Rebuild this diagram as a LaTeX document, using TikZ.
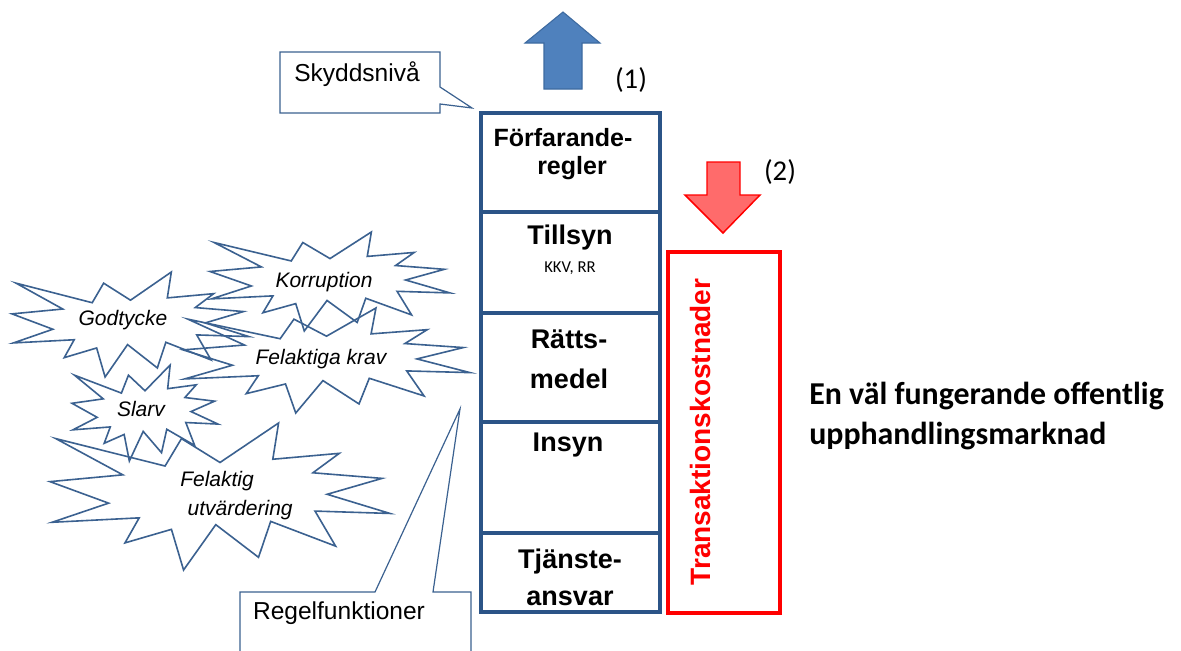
\documentclass[tikz,border=0pt]{standalone}
\usepackage{fontspec}
\setmainfont{Liberation Sans}
\newfontfamily\calibri{Carlito}
\definecolor{starblue}{HTML}{3B6190}
\definecolor{colblue}{HTML}{2B5487}
\definecolor{arrblue}{HTML}{4F81BD}
\definecolor{arrblueline}{HTML}{3D6AA0}
\definecolor{lightred}{HTML}{FF6B6B}
\newcommand\sealpath{(108,58) -- (145.22,0) -- (141.55,53.25) -- (183.80,44.57) -- (167.02,73.15) -- (210.97,81.37) -- (176.07,104.75) -- (216,132.90) -- (168.37,129.42) -- (181.45,180.95) -- (140.20,144.57) -- (132.47,197.37) -- (105.32,149.35) -- (84.85,216) -- (77.15,156.27) -- (47.62,176.17) -- (56.67,139.37) -- (1.35,145.87) -- (37.22,117.75) -- (0,86.15) -- (46.27,76.17) -- (3.70,22.95) -- (73.12,63.20) -- (83.52,22.95) -- cycle}
\newcommand\seal[4]{\begin{scope}[shift={(#1,#2)},xscale=#3/216,yscale=#4/216]\draw[sealline] \sealpath;\end{scope}}
\begin{document}
\begin{tikzpicture}[x=0.75pt,y=-0.75pt,
  sealline/.style={draw=starblue,line width=1.2pt,line join=miter},
  startext/.style={font=\itshape\fontsize{15.75pt}{19pt}\selectfont,inner sep=0pt},
  callout/.style={draw=starblue,line width=0.9pt,fill=white},
  calltext/.style={font=\fontsize{18.4pt}{22pt}\selectfont,inner sep=0pt},
  cell/.style={draw=colblue,line width=3pt},
  celltext/.style={font=\bfseries\fontsize{20.25pt}{#1}\selectfont,align=center,inner sep=0pt},
  celltext/.default=30pt,
  numtext/.style={font=\calibri\fontsize{21.5pt}{24pt}\selectfont,inner sep=0pt}]
\useasboundingbox (0,0) rectangle (1181,650);
\fill[white] (0,0) rectangle (1181,650);
\clip (0,0) rectangle (1181,650);

% starbursts
\seal{210}{232}{240}{99}
\seal{12}{272}{237}{105}
\seal{183}{308}{287}{105}
\seal{72}{365}{146}{96}
\seal{50}{423}{340}{147}
\node[startext] (korr) at (324,282) {Korruption};
\node[startext] (godt) at (123,320) {Godtycke};
\node[startext] (krav) at (321,359) {Felaktiga krav};
\node[startext] (slarv) at (141,409) {Slarv};
\node[startext,align=left,anchor=north west,font=\itshape\fontsize{15.75pt}{22pt}\selectfont] (utv) at (180,471) {Felaktig\\\hspace*{5.5pt}utvärdering};

% callouts
\path[callout] (280,52) -- (440,52) -- (440,87) -- (472,108) -- (440,104) -- (440,113) -- (280,113) -- cycle;
\node[calltext] (skydd) at (357,74) {Skyddsnivå};
\path[callout] (240,592) -- (375,592) -- (460,409) -- (433,592) -- (471,592) -- (471,680) -- (240,680) -- cycle;
\node[calltext] (regel) at (339,613) {Regelfunktioner};

% blue arrow (1)
\path[fill=arrblue,draw=arrblueline,line width=0.8pt] (544,89) -- (544,43) -- (525,43) -- (563,12) -- (600,43) -- (582,43) -- (582,89) -- cycle;
\node[numtext] (n1) at (631,80) {(1)};

% column of rule functions
\draw[cell] (481,113) rectangle (660,612);
\draw[cell] (481,212) -- (660,212);
\draw[cell] (481,313) -- (660,313);
\draw[cell] (481,422) -- (660,422);
\draw[cell] (481,533) -- (660,533);
\node[inner sep=0pt,font=\bfseries\fontsize{18.75pt}{22.5pt}\selectfont] (forf1) at (563,138) {Förfarande-};
\node[inner sep=0pt,font=\bfseries\fontsize{18.75pt}{22.5pt}\selectfont] (forf2) at (572,168) {regler};
\node[celltext] (till) at (570,238) {Tillsyn};
\node[inner sep=0pt,font=\calibri\fontsize{12.5pt}{14pt}\selectfont] (kkv) at (570,268) {KKV, RR};
\node[celltext=30pt] (ratt) at (569,359) {Rätts-\\medel};
\node[celltext] (insyn) at (568,445) {Insyn};
\node[celltext=27.75pt] (tjan) at (570,577) {Tjänste-\\ansvar};

% red arrow (2) and box
\path[fill=lightred,draw=red,line width=1.1pt] (707,162) -- (740,162) -- (740,195) -- (760,195) -- (723,233) -- (685,195) -- (707,195) -- cycle;
\node[numtext] (n2) at (780,172) {(2)};
\draw[red,line width=2.6pt] (668,252) rectangle (780,613);
\node[rotate=90,text=red,inner sep=0pt,font=\bfseries\fontsize{21pt}{24pt}\selectfont] (trans) at (700,432) {Transaktionskostnader};

% market text
\node[anchor=west,align=left,inner sep=0pt,font=\calibri\bfseries\fontsize{23.9pt}{30pt}\selectfont] (market) at (809,416) {En väl fungerande offentlig\\upphandlingsmarknad};
\end{tikzpicture}
\end{document}
